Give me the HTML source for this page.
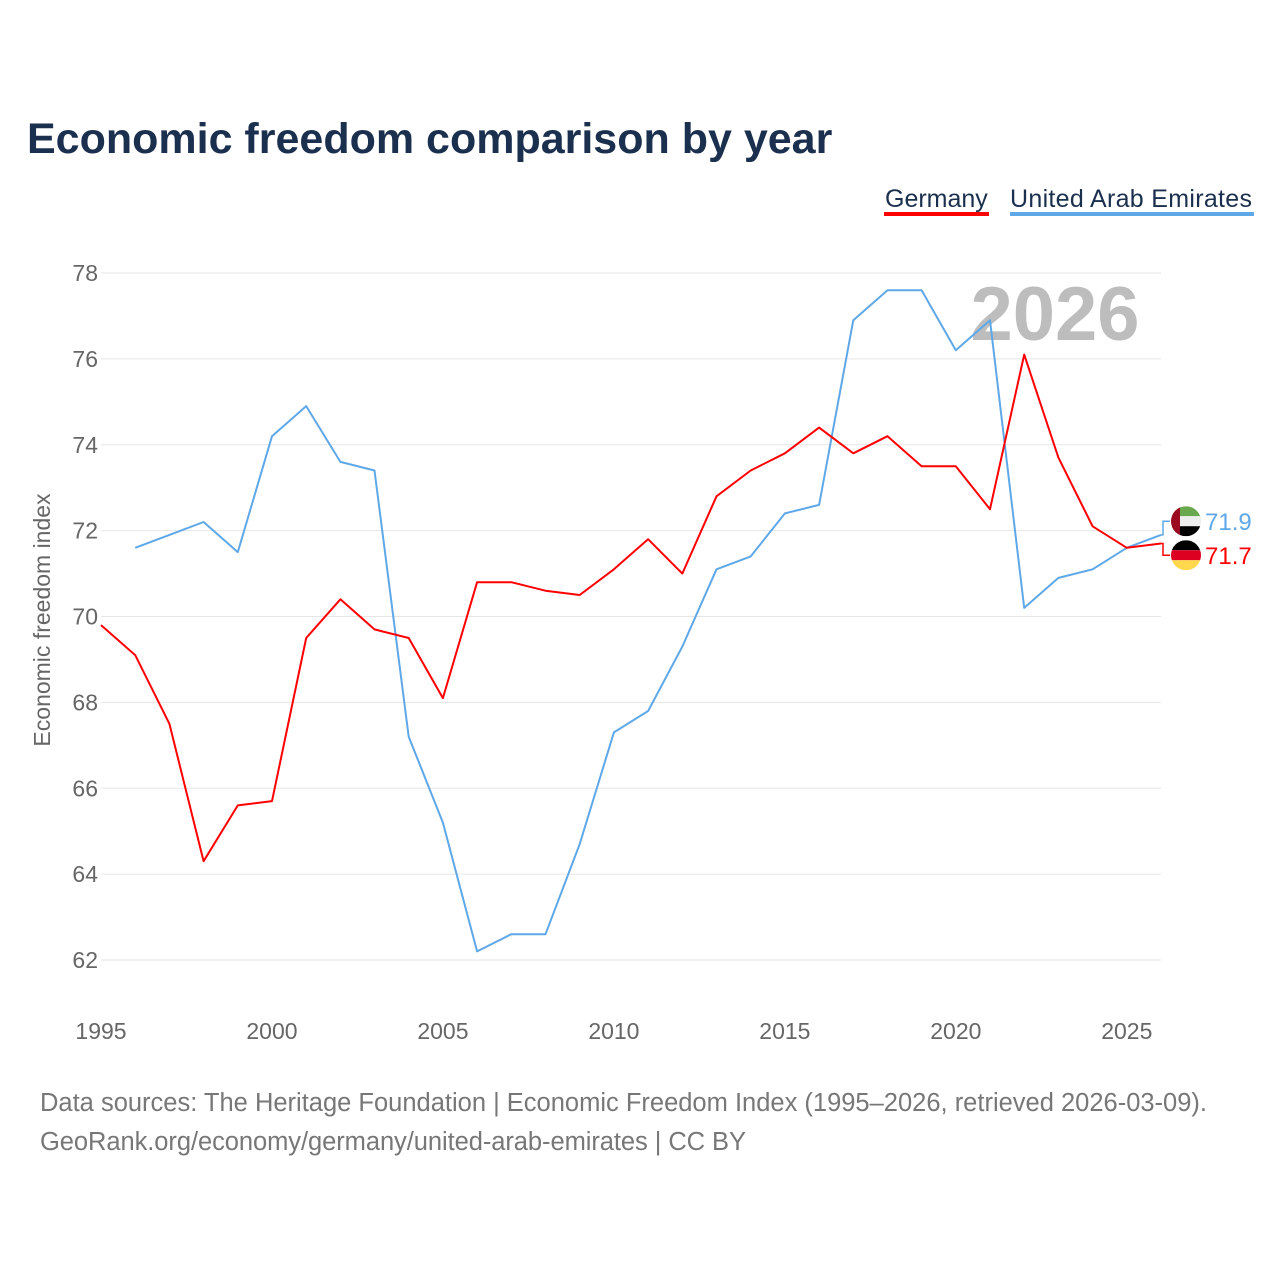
<!DOCTYPE html>
<html><head><meta charset="utf-8">
<style>
body{margin:0;background:#fff;font-family:"Liberation Sans",sans-serif;}
#wrap{position:relative;width:1280px;height:1280px;overflow:hidden;}
</style></head>
<body>
<div id="wrap">
<svg id="chart" width="1280" height="1280" xmlns="http://www.w3.org/2000/svg">
<text x="27" y="153" font-size="43" font-weight="bold" fill="#1b2f4e">Economic freedom comparison by year</text>
<g>
<text x="885" y="207" font-size="25" fill="#1b2f4e">Germany</text>
<rect x="884" y="212" width="105" height="4" fill="#ff0000"/>
<text x="1010" y="207" font-size="25" fill="#1b2f4e" textLength="242">United Arab Emirates</text>
<rect x="1010" y="212" width="244" height="4" fill="#5fa8e8"/>
</g>
<g id="grid"></g>
<text x="1055" y="340" font-size="76" font-weight="bold" fill="#bdbdbd" text-anchor="middle">2026</text>
<text transform="translate(50,620) rotate(-90)" font-size="23" fill="#666" text-anchor="middle">Economic freedom index</text>
<g id="series"></g>
<text x="40" y="1111" font-size="25.5" fill="#777" textLength="1167">Data sources: The Heritage Foundation | Economic Freedom Index (1995–2026, retrieved 2026-03-09).</text>
<text x="40" y="1150" font-size="25.5" fill="#777" textLength="706">GeoRank.org/economy/germany/united-arab-emirates | CC BY</text>
</svg>
</div>
<script>
const years = [1995,1996,1997,1998,1999,2000,2001,2002,2003,2004,2005,2006,2007,2008,2009,2010,2011,2012,2013,2014,2015,2016,2017,2018,2019,2020,2021,2022,2023,2024,2025,2026];
const germany = [69.8,69.1,67.5,64.3,65.6,65.7,69.5,70.4,69.7,69.5,68.1,70.8,70.8,70.6,70.5,71.1,71.8,71.0,72.8,73.4,73.8,74.4,73.8,74.2,73.5,73.5,72.5,76.1,73.7,72.1,71.6,71.7];
const uae = [null,71.6,71.9,72.2,71.5,74.2,74.9,73.6,73.4,67.2,65.2,62.2,62.6,62.6,64.7,67.3,67.8,69.3,71.1,71.4,72.4,72.6,76.9,77.6,77.6,76.2,76.9,70.2,70.9,71.1,71.6,71.9];
const yTicks = [62,64,66,68,70,72,74,76,78];
const xTicks = [1995,2000,2005,2010,2015,2020,2025];
const NS="http://www.w3.org/2000/svg";
const x = v => 101 + (v-1995)*(1161-101)/31;
const y = v => 960 - (v-62)*(960-273)/16;
const grid=document.getElementById('grid'), series=document.getElementById('series');
function mk(tag,attrs,parent){const e=document.createElementNS(NS,tag);for(const k in attrs)e.setAttribute(k,attrs[k]);parent.appendChild(e);return e;}
yTicks.forEach(t=>{
  const l=mk('line',{x1:101,x2:1161,y1:y(t),y2:y(t),stroke:'#e6e6e6','stroke-width':1},grid);
  
  
  const tx=mk('text',{x:98,y:y(t)+8,'font-size':23,fill:'#666','text-anchor':'end'},grid);
  tx.textContent=t;
  
  
});
xTicks.forEach(t=>{
  const tx=mk('text',{x:x(t),y:1039,'font-size':23,fill:'#666','text-anchor':'middle'},grid);
  tx.textContent=t;
  
  
});
function line(vals,color,name){
  let d='';
  vals.forEach((v,i)=>{if(v==null)return;d+=(d?'L':'M')+x(years[i]).toFixed(1)+','+y(v).toFixed(1);});
  const p=mk('path',{d:d,fill:'none',stroke:color,'stroke-width':2,'stroke-linejoin':'round'},series);
  
  
}
line(uae,'#5fa8e8','uae-line');
line(germany,'#ff0000','germany-line');
const uLast=uae[uae.length-1], gLast=germany[germany.length-1];
const uy=(y(uLast)+y(gLast))/2-18, gy=uy+34;
mk('path',{d:`M1161,${y(uLast)}L1163,${y(uLast)}L1163,${uy}L1170,${uy}`,fill:'none',stroke:'#5fa8e8','stroke-width':1.5},series);
mk('path',{d:`M1161,${y(gLast)}L1163,${y(gLast)}L1163,${gy}L1170,${gy}`,fill:'none',stroke:'#ff0000','stroke-width':1.5},series);
const fu=mk('g',{},series);


const cu=mk('clipPath',{id:'cu'},fu);mk('circle',{cx:1186,cy:uy,r:15},cu);
const gu=mk('g',{'clip-path':'url(#cu)'},fu);
mk('rect',{x:1171,y:uy-15,width:30,height:10,fill:'#6aa84f'},gu);
mk('rect',{x:1171,y:uy-5,width:30,height:10,fill:'#eee'},gu);
mk('rect',{x:1171,y:uy+5,width:30,height:10,fill:'#000'},gu);
mk('rect',{x:1171,y:uy-15,width:9,height:30,fill:'#9b0a1e'},gu);
const fg=mk('g',{},series);


const cg=mk('clipPath',{id:'cg'},fg);mk('circle',{cx:1186,cy:gy,r:15},cg);
const gg=mk('g',{'clip-path':'url(#cg)'},fg);
mk('rect',{x:1171,y:gy-15,width:30,height:10,fill:'#000'},gg);
mk('rect',{x:1171,y:gy-5,width:30,height:10,fill:'#dd0020'},gg);
mk('rect',{x:1171,y:gy+5,width:30,height:10,fill:'#ffd84d'},gg);
const lu=mk('text',{x:1205,y:uy+9,'font-size':24,fill:'#5fa8e8'},series);
lu.textContent=uLast.toFixed(1);


const lg=mk('text',{x:1205,y:gy+9,'font-size':24,fill:'#ff0000'},series);
lg.textContent=gLast.toFixed(1);


</script>
</body></html>
